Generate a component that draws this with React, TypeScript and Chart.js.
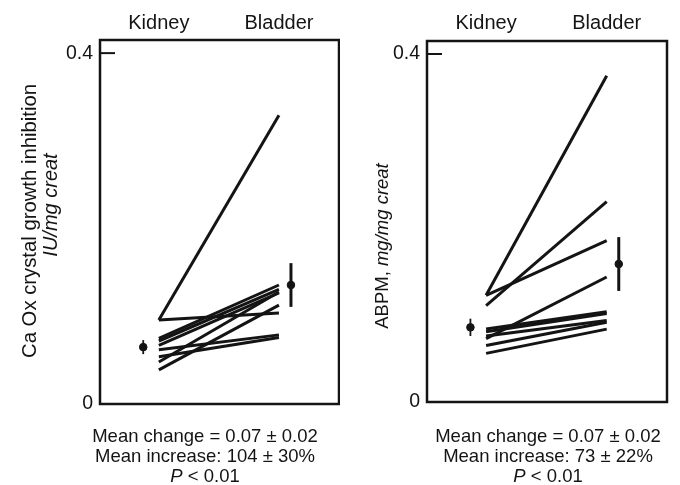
import React, { useEffect, useRef } from 'react';
import { Chart, registerables } from 'chart.js';

Chart.register(...registerables);

// ---------- data ----------
const categories = ['Kidney', 'Bladder'];
const yTickValues = [0, 0.4];
const yTickLabels = ['0', '0.4'];

const caoxKidney = [0.095, 0.095, 0.074, 0.071, 0.066, 0.061, 0.053, 0.047, 0.038];
const caoxBladder = [0.329, 0.103, 0.135, 0.13, 0.126, 0.078, 0.075, 0.127, 0.112];
const caoxMean = [0.064, 0.135];
const caoxErr = [0.008, 0.025];

const abpmKidney = [0.122, 0.11, 0.122, 0.072, 0.083, 0.08, 0.075, 0.064, 0.055];
const abpmBladder = [0.375, 0.23, 0.185, 0.143, 0.103, 0.101, 0.093, 0.091, 0.083];
const abpmMean = [0.085, 0.158];
const abpmErr = [0.01, 0.031];

const caoxStats = ['Mean change = 0.07 ± 0.02', 'Mean increase: 104 ± 30%', '< 0.01'];
const abpmStats = ['Mean change = 0.07 ± 0.02', 'Mean increase: 73 ± 22%', '< 0.01'];

const FONT = '"Liberation Sans", Arial, Helvetica, sans-serif';
const INK = '#141414';

type Part = { t: string; i?: boolean };

function drawParts(ctx: CanvasRenderingContext2D, parts: Part[], cx: number, cy: number, size: number) {
  let total = 0;
  const widths = parts.map((p) => {
    ctx.font = `${p.i ? 'italic ' : ''}${size}px ${FONT}`;
    const w = ctx.measureText(p.t).width;
    total += w;
    return w;
  });
  let x = cx - total / 2;
  parts.forEach((p, k) => {
    ctx.font = `${p.i ? 'italic ' : ''}${size}px ${FONT}`;
    ctx.fillText(p.t, x, cy);
    x += widths[k];
  });
}

const decorPlugin = {
  id: 'decor',
  afterDatasetsDraw(chart: any, _args: any, opts: any) {
    const ctx: CanvasRenderingContext2D = chart.ctx;
    const area = chart.chartArea;
    const xs = chart.scales.x;
    const ys = chart.scales.y;
    ctx.save();
    ctx.strokeStyle = INK;
    ctx.fillStyle = INK;
    // frame
    ctx.lineWidth = 2.5;
    ctx.strokeRect(area.left, area.top, area.right - area.left, area.bottom - area.top);
    // inward tick at 0.4
    const ty = ys.getPixelForValue(0.4);
    ctx.lineWidth = 2;
    ctx.beginPath();
    ctx.moveTo(area.left, ty);
    ctx.lineTo(area.left + 15, ty);
    ctx.stroke();
    // y tick labels
    ctx.textBaseline = 'middle';
    ctx.textAlign = 'right';
    ctx.font = `19.5px ${FONT}`;
    yTickValues.forEach((v, k) => {
      ctx.fillText(yTickLabels[k], area.left - 7, ys.getPixelForValue(v));
    });
    // category labels on top
    ctx.textAlign = 'center';
    ctx.textBaseline = 'alphabetic';
    ctx.font = `20px ${FONT}`;
    categories.forEach((c, k) => {
      ctx.fillText(c, xs.getPixelForValue(k + 1), 29);
    });
    ctx.textAlign = 'left';
    // error bars
    const mx = opts.meanX as number[];
    const mean = opts.mean as number[];
    const err = opts.err as number[];
    mean.forEach((m: number, k: number) => {
      const px = xs.getPixelForValue(mx[k]);
      ctx.lineWidth = k === 0 ? 1.8 : 3;
      ctx.beginPath();
      ctx.moveTo(px, ys.getPixelForValue(m - err[k]));
      ctx.lineTo(px, ys.getPixelForValue(m + err[k]));
      ctx.stroke();
    });
    // y title
    ctx.textBaseline = 'middle';
    (opts.yTitle as { parts: Part[]; x: number; y: number; size: number }[]).forEach((ln) => {
      ctx.save();
      ctx.translate(ln.x, ln.y);
      ctx.rotate(-Math.PI / 2);
      drawParts(ctx, ln.parts, 0, 0, ln.size);
      ctx.restore();
    });
    // stats below
    const stats = opts.stats as string[];
    const sx = opts.statsX as number;
    drawParts(ctx, [{ t: stats[0] }], sx, 437, 18.5);
    drawParts(ctx, [{ t: stats[1] }], sx, 457, 18.5);
    drawParts(ctx, [{ t: 'P', i: true }, { t: ' ' + stats[2] }], sx, 477, 18.5);
    ctx.restore();
  },
};

function makeConfig(
  kidney: number[],
  bladder: number[],
  mean: number[],
  err: number[],
  stats: string[],
  padding: { left: number; right: number; top: number; bottom: number },
  yTitle: { parts: Part[]; x: number; y: number; size: number }[],
  statsX: number
): any {
  const meanX = [0.87, 2.1];
  const datasets: any[] = kidney.map((k, i) => ({
    type: 'line',
    data: [
      { x: 1, y: k },
      { x: 2, y: bladder[i] },
    ],
    borderColor: INK,
    borderWidth: 3,
    pointRadius: 0,
    fill: false,
    tension: 0,
  }));
  datasets.push({
    type: 'scatter',
    data: mean.map((m, k) => ({ x: meanX[k], y: m })),
    backgroundColor: INK,
    borderColor: INK,
    pointRadius: 3.8,
    pointStyle: 'circle',
  });
  return {
    type: 'line',
    data: { datasets },
    options: {
      animation: false,
      responsive: false,
      maintainAspectRatio: false,
      layout: { padding, autoPadding: false },
      plugins: {
        legend: { display: false },
        tooltip: { enabled: false },
        decor: { mean, err, meanX, stats, statsX, yTitle },
      },
      scales: {
        x: { type: 'linear', display: false, min: 0.51, max: 2.5 },
        y: { type: 'linear', display: false, min: -0.001, max: 0.415 },
      },
    },
    plugins: [decorPlugin],
  };
}

function Panel(props: { cfg: any; left: number }) {
  const ref = useRef<HTMLCanvasElement | null>(null);
  useEffect(() => {
    if (!ref.current) return;
    const chart = new Chart(ref.current, props.cfg);
    return () => chart.destroy();
  }, []);
  return (
    <canvas
      ref={ref}
      width={340}
      height={485}
      style={{ position: 'absolute', left: props.left, top: 0, width: 340, height: 485 }}
    />
  );
}

export default function App() {
  useEffect(() => {
    document.body.style.margin = '0';
  }, []);
  const leftCfg = makeConfig(
    caoxKidney,
    caoxBladder,
    caoxMean,
    caoxErr,
    caoxStats,
    { left: 100, right: 1, top: 40, bottom: 81 },
    [
      { parts: [{ t: 'Ca Ox crystal growth inhibition' }], x: 30, y: 221, size: 20.3 },
      { parts: [{ t: 'IU/mg creat', i: true }], x: 51, y: 205, size: 20 },
    ],
    205
  );
  const rightCfg = makeConfig(
    abpmKidney,
    abpmBladder,
    abpmMean,
    abpmErr,
    abpmStats,
    { left: 87, right: 13, top: 41, bottom: 83 },
    [{ parts: [{ t: 'ABPM, ' }, { t: 'mg/mg creat', i: true }], x: 43, y: 246, size: 18.5 }],
    208
  );
  return (
    <div style={{ position: 'relative', width: 680, height: 485, background: '#fff', margin: 0 }}>
      <Panel cfg={leftCfg} left={0} />
      <Panel cfg={rightCfg} left={340} />
    </div>
  );
}
